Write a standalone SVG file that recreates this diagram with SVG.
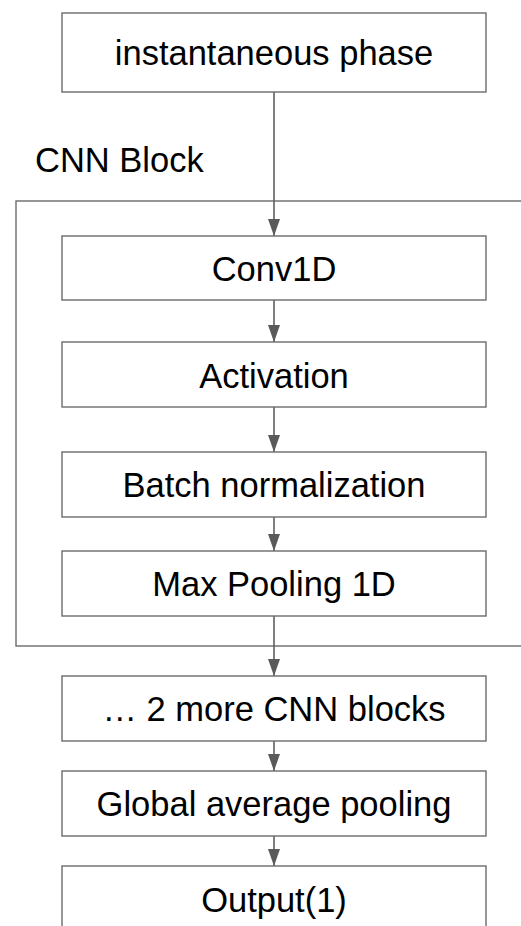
<svg xmlns="http://www.w3.org/2000/svg" width="521" height="926" viewBox="0 0 521 926">
<style>
.box{fill:#fff;stroke:#6b6b6b;stroke-width:1.4}
.lbl{font-family:"Liberation Sans",Arial,sans-serif;font-size:34.5px;fill:#000;text-anchor:middle}
.edge{stroke:#5f5f5f;stroke-width:1.6;fill:none;marker-end:url(#ah)}
</style>
<defs>
<marker id="ah" markerUnits="userSpaceOnUse" markerWidth="17" markerHeight="13" viewBox="0 0 17 13" refX="17" refY="6.5" orient="auto">
<path d="M0,0.5 L17,6.5 L0,12.5 Z" fill="#5a5a5a"/>
</marker>
</defs>
<rect width="521" height="926" fill="#fff"/>
<g id="cnn-block">
<rect x="16" y="201" width="520" height="445" fill="none" stroke="#6b6b6b" stroke-width="1.4"/>
<text class="lbl" x="35" y="172" style="text-anchor:start">CNN Block</text>
</g>
<g id="connectors">
<line class="edge" x1="274" y1="92" x2="274" y2="236"/>
<line class="edge" x1="274" y1="300" x2="274" y2="342"/>
<line class="edge" x1="274" y1="407" x2="274" y2="452"/>
<line class="edge" x1="274" y1="517" x2="274" y2="551"/>
<line class="edge" x1="274" y1="616" x2="274" y2="676"/>
<line class="edge" x1="274" y1="741" x2="274" y2="771"/>
<line class="edge" x1="274" y1="836" x2="274" y2="866"/>
</g>
<g id="input"><rect class="box" x="62" y="13" width="424" height="79"/><text class="lbl" x="274" y="65">instantaneous phase</text></g>
<g id="conv1d"><rect class="box" x="62" y="236" width="424" height="64"/><text class="lbl" x="274" y="281">Conv1D</text></g>
<g id="activation"><rect class="box" x="62" y="342" width="424" height="65"/><text class="lbl" x="274" y="388">Activation</text></g>
<g id="batchnorm"><rect class="box" x="62" y="452" width="424" height="65"/><text class="lbl" x="274" y="497">Batch normalization</text></g>
<g id="maxpool"><rect class="box" x="62" y="551" width="424" height="65"/><text class="lbl" x="274" y="596">Max Pooling 1D</text></g>
<g id="more"><rect class="box" x="62" y="676" width="424" height="65"/><text class="lbl" x="274" y="721">… 2 more CNN blocks</text></g>
<g id="gap"><rect class="box" x="62" y="771" width="424" height="65"/><text class="lbl" x="274" y="816">Global average pooling</text></g>
<g id="output"><rect class="box" x="62" y="866" width="424" height="70"/><text class="lbl" x="274" y="912">Output(1)</text></g>
</svg>
